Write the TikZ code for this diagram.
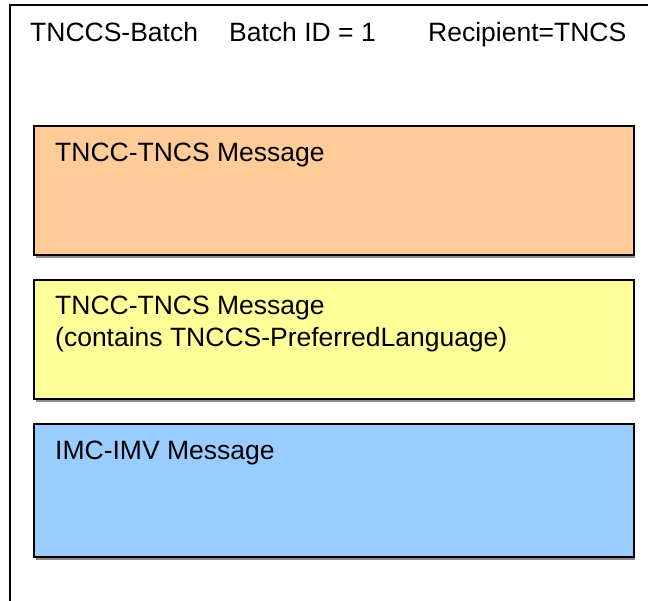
\documentclass[tikz,border=0pt]{standalone}
\usepackage{fontspec}
\setmainfont{Liberation Sans}
\definecolor{boxorange}{HTML}{FFCC99}
\definecolor{boxyellow}{HTML}{FFFF99}
\definecolor{boxblue}{HTML}{99CCFF}
\begin{document}
\begin{tikzpicture}[x=1pt,y=-1pt,
  msgbox/.style={draw=black,line width=1.5pt},
  shadowline/.style={draw=black!45,line width=1.5pt},
  lbl/.style={anchor=base west,inner sep=0pt,font=\fontsize{26.5}{33}\selectfont},
  frame/.style={line width=2pt}]
\useasboundingbox (0,0) rectangle (648,601);
% outer frame (only left and top edges visible)
\draw[frame] (10,601) -- (10,5) -- (648,5);
% header texts
\node[lbl] (hb) at (30,42) {TNCCS-Batch};
\node[lbl] (hid) at (229,42) {Batch ID = 1};
\node[lbl] (hr) at (428,42) {Recipient=TNCS};
% shadows
\draw[shadowline] (36,256.8) -- (635,256.8);
\draw[shadowline] (36,400.8) -- (635,400.8);
\draw[shadowline] (36,558.8) -- (635,558.8);
% boxes
\filldraw[msgbox,fill=boxorange] (34,126) rectangle (634,255);
\filldraw[msgbox,fill=boxyellow] (34,280) rectangle (634,399);
\filldraw[msgbox,fill=boxblue] (34,424) rectangle (634,557);
% labels
\node[lbl] (m1) at (55,162) {TNCC-TNCS Message};
\node[lbl] (m2) at (55,315) {TNCC-TNCS Message};
\node[lbl] (m2b) at (55,347) {(contains TNCCS-PreferredLanguage)};
\node[lbl] (m3) at (55,460) {IMC-IMV Message};
\end{tikzpicture}
\end{document}
